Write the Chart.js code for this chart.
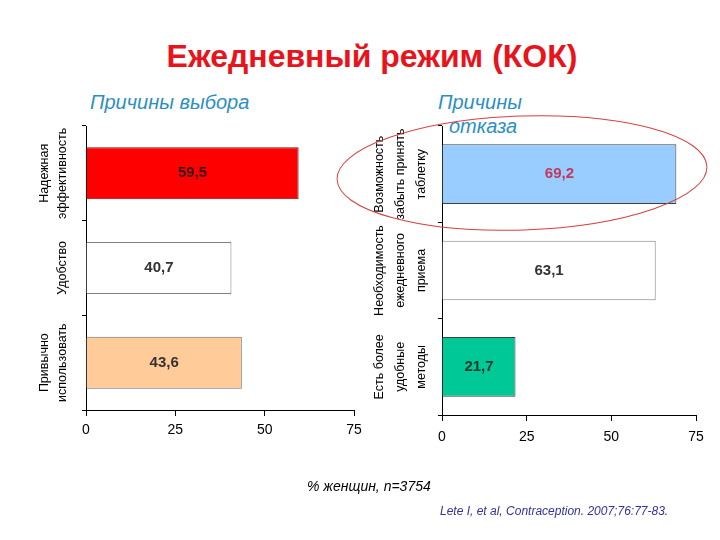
<!DOCTYPE html>
<html>
<head>
<meta charset="utf-8">
<script src="https://cdn.jsdelivr.net/npm/chart.js@4.4.1/dist/chart.umd.min.js"></script>
<style>
  body { margin: 0; width: 720px; height: 540px; background: #fff; position: relative; overflow: hidden;
         font-family: "Liberation Sans", Arial, sans-serif; }
  .abs { position: absolute; white-space: nowrap; }
  #title { left: 0; width: 744px; top: 38px; text-align: center; font-size: 32px; font-weight: bold; color: #e8141c; }
  .sub { font-size: 20px; font-style: italic; color: #2b8fc4; }
  #note { left: 307px; top: 478px; font-size: 14px; font-style: italic; color: #000; }
  #cite { left: 440px; top: 504px; font-size: 12px; font-style: italic; color: #333399; }
  canvas { position: absolute; }
  svg { position: absolute; left: 0; top: 0; pointer-events: none; }
</style>
</head>
<body>
<div id="title" class="abs">Ежедневный режим (КОК)</div>
<div class="abs sub" style="left:90px;top:91px;">Причины выбора</div>
<div class="abs sub" style="left:438px;top:91px;">Причины</div>
<div class="abs sub" style="left:449px;top:115px;">отказа</div>

<canvas id="choiceChart" width="370" height="350" style="left:0;top:100px;"></canvas>
<canvas id="refusalChart" width="350" height="350" style="left:370px;top:100px;"></canvas>

<svg width="720" height="540">
  <ellipse cx="522" cy="173" rx="185" ry="57" transform="rotate(-2 522 173)"
           fill="none" stroke="#d84040" stroke-width="1"/>
</svg>

<div id="note" class="abs">% женщин, n=3754</div>
<div id="cite" class="abs">Lete I, et al, Contraception. 2007;76:77-83.</div>

<script>
// Chart data
const choiceLabels = [['Надежная', 'эффективность'], ['Удобство'], ['Привычно', 'использовать']];
const choiceValues = [59.5, 40.7, 43.6];
const choiceColors = ['#ff0000', '#ffffff', '#ffcc99'];
const choiceBorders = ['#6a1010', '#808080', '#707070'];
const choiceValueColors = ['#3a1414', '#333333', '#333333'];

const refusalLabels = [['Возможность', 'забыть принять', 'таблетку'], ['Необходимость', 'ежедневного', 'приема'], ['Есть более', 'удобные', 'методы']];
const refusalValues = [69.2, 63.1, 21.7];
const refusalColors = ['#99ccff', '#ffffff', '#00c896'];
const refusalBorders = ['#404040', '#808080', '#404040'];
const refusalValueColors = ['#c0395a', '#333333', '#1a3a30'];

const xTicks = [0, 25, 50, 75];

// Format value with comma decimal
function formatValue(v) {
    return v.toFixed(1).replace('.', ',');
}

// Rotated multi-line category labels next to the y axis
function rotatedLabelsPlugin(labels, gap, lineHeight) {
    return {
        id: 'rotatedLabels',
        afterDraw(chart) {
            const ctx = chart.ctx;
            const yScale = chart.scales.y;
            ctx.save();
            ctx.font = '12.5px "Liberation Sans", Arial, sans-serif';
            ctx.fillStyle = '#000';
            ctx.textAlign = 'center';
            ctx.textBaseline = 'middle';
            labels.forEach((lines, i) => {
                const y = yScale.getPixelForTick(i);
                lines.forEach((line, j) => {
                    const x = yScale.right - gap - (lines.length - 1 - j) * lineHeight;
                    ctx.save();
                    ctx.translate(x, y);
                    ctx.rotate(-Math.PI / 2);
                    ctx.fillText(line, 0, 0);
                    ctx.restore();
                });
            });
            ctx.restore();
        }
    };
}

// Value labels centred in each bar
function valueLabelsPlugin(values, colors) {
    return {
        id: 'valueLabels',
        afterDatasetsDraw(chart) {
            const ctx = chart.ctx;
            const meta = chart.getDatasetMeta(0);
            ctx.save();
            ctx.font = 'bold 15px "Liberation Sans", Arial, sans-serif';
            ctx.textAlign = 'center';
            ctx.textBaseline = 'middle';
            meta.data.forEach((bar, i) => {
                ctx.fillStyle = colors[i];
                ctx.fillText(formatValue(values[i]), (bar.x + bar.base) / 2, bar.y);
            });
            ctx.restore();
        }
    };
}

function makeChart(id, labels, values, colors, borders, valueColors, cfg) {
    const ctx = document.getElementById(id).getContext('2d');
    return new Chart(ctx, {
        type: 'bar',
        data: {
            labels: labels,
            datasets: [{
                data: values,
                backgroundColor: colors,
                borderColor: borders,
                borderWidth: 1,
                barPercentage: cfg.barPct,
                categoryPercentage: 1
            }]
        },
        options: {
            indexAxis: 'y',
            responsive: false,
            animation: false,
            layout: { padding: { top: cfg.padTop, right: cfg.padRight, bottom: 0, left: 0 } },
            plugins: {
                legend: { display: false },
                tooltip: { enabled: false }
            },
            scales: {
                x: {
                    min: 0,
                    max: 75,
                    afterBuildTicks: scale => { scale.ticks = xTicks.map(v => ({ value: v })); },
                    afterFit: scale => { scale.height = cfg.xHeight; },
                    ticks: {
                        color: '#000',
                        padding: cfg.xPad,
                        maxRotation: 0,
                        font: { size: 14, family: '"Liberation Sans", Arial, sans-serif' }
                    },
                    grid: { drawOnChartArea: false, tickLength: 6, color: '#000' },
                    border: { color: '#000' }
                },
                y: {
                    afterFit: scale => { scale.width = cfg.yWidth; },
                    ticks: { display: false },
                    grid: { offset: true, drawOnChartArea: false, tickLength: 4, color: '#000' },
                    border: { color: '#000' }
                }
            }
        },
        plugins: [
            rotatedLabelsPlugin(labels, cfg.gap, cfg.lineHeight),
            valueLabelsPlugin(values, valueColors)
        ]
    });
}

document.addEventListener('DOMContentLoaded', () => {
    makeChart('choiceChart', choiceLabels, choiceValues, choiceColors, choiceBorders, choiceValueColors, {
        barPct: 0.55, padTop: 26, padRight: 16, xHeight: 40, xPad: 6, yWidth: 86, gap: 23, lineHeight: 18
    });
    makeChart('refusalChart', refusalLabels, refusalValues, refusalColors, refusalBorders, refusalValueColors, {
        barPct: 0.62, padTop: 26, padRight: 24, xHeight: 35, xPad: 8, yWidth: 72, gap: 20, lineHeight: 21
    });
});
</script>
</body>
</html>
